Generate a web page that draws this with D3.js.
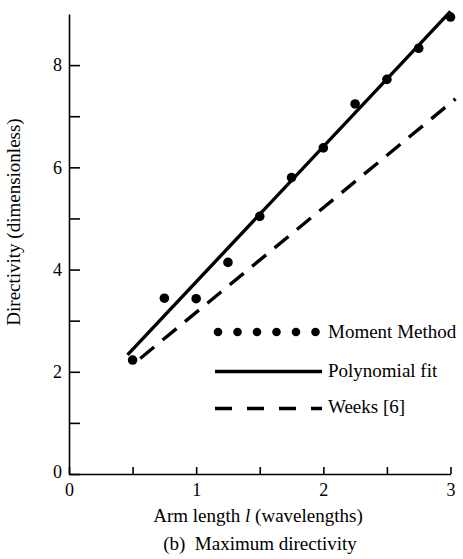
<!DOCTYPE html>
<html>
<head>
<meta charset="utf-8">
<script src="https://cdn.jsdelivr.net/npm/d3@7"></script>
<style>
  html, body { margin: 0; padding: 0; background: #fff; }
  svg { display: block; }
  text { font-family: "Liberation Serif", "Times New Roman", serif; fill: #000; }
</style>
</head>
<body>
<svg id="chart" width="463" height="559"></svg>
<script>
// ---- data ----
const armLength = [0.5, 0.75, 1.0, 1.25, 1.5, 1.75, 2.0, 2.25, 2.5, 2.75, 3.0];
const momentMethod = [2.23, 3.44, 3.43, 4.14, 5.04, 5.80, 6.38, 7.24, 7.72, 8.33, 8.94];
const fitX = [0.46, 3.0];
const fitY = [2.33, 9.05];
const weeksX = [0.56, 3.04];
const weeksY = [2.26, 7.34];
const xTicks = [0, 0.5, 1, 1.5, 2, 2.5, 3];
const xTickLabels = ["0", "", "1", "", "2", "", "3"];
const yTicks = [0, 1, 2, 3, 4, 5, 6, 7, 8];
const yTickLabels = ["0", "", "2", "", "4", "", "6", "", "8"];
const legendLabels = ["Moment Method", "Polynomial fit", "Weeks [6]"];

const svg = d3.select("#chart");
const x = d3.scaleLinear().domain([0, 3]).range([69, 450.5]);
const y = d3.scaleLinear().domain([0, 9]).range([474, 14]);
const fs = 19;
const tfs = 18;

// axes
const xAxis = d3.axisBottom(x).tickValues(xTicks)
  .tickFormat((d, i) => xTickLabels[i]).tickSizeInner(-7).tickSizeOuter(0).tickPadding(9);
const yAxis = d3.axisLeft(y).tickValues(yTicks)
  .tickFormat((d, i) => yTickLabels[i]).tickSizeInner(-11).tickSizeOuter(0).tickPadding(7);

const gx = svg.append("g").attr("transform", `translate(0,${y(0)})`).call(xAxis);
const gy = svg.append("g").attr("transform", `translate(${x(0)},0)`).call(yAxis);
[gx, gy].forEach(g => {
  g.select(".domain").attr("stroke", "#000").attr("stroke-width", 1.6);
  g.selectAll(".tick line").attr("stroke", "#000").attr("stroke-width", 1.6);
  g.selectAll(".tick text").attr("font-family", "Liberation Serif, serif").attr("font-size", tfs).attr("fill", "#000");
});
gy.select(".tick text").attr("dy", "0.2em");

// lines
const line = d3.line().x(d => x(d[0])).y(d => y(d[1]));
svg.append("path").datum(fitX.map((v, i) => [v, fitY[i]]))
  .attr("d", line).attr("fill", "none").attr("stroke", "#000").attr("stroke-width", 3.4);
svg.append("path").datum(weeksX.map((v, i) => [v, weeksY[i]]))
  .attr("d", line).attr("fill", "none").attr("stroke", "#000").attr("stroke-width", 3.4)
  .attr("stroke-dasharray", "18,11");

// points
svg.append("g").selectAll("circle").data(armLength).join("circle")
  .attr("cx", d => x(d)).attr("cy", (d, i) => y(momentMethod[i])).attr("r", 4.8).attr("fill", "#000");

// legend
const lg = svg.append("g");
lg.selectAll("circle").data(d3.range(6)).join("circle")
  .attr("cx", d => 218 + d * 19.5).attr("cy", 332).attr("r", 4.3).attr("fill", "#000");
lg.append("line").attr("x1", 215).attr("x2", 322).attr("y1", 371.5).attr("y2", 371.5)
  .attr("stroke", "#000").attr("stroke-width", 3.4);
lg.append("line").attr("x1", 215).attr("x2", 322).attr("y1", 408.5).attr("y2", 408.5)
  .attr("stroke", "#000").attr("stroke-width", 3.4).attr("stroke-dasharray", "17,15");
[337.5, 376.5, 412.5].forEach((by, i) => {
  lg.append("text").attr("x", 328).attr("y", by).attr("font-size", fs).text(legendLabels[i]);
});

// axis titles
const xt = svg.append("text").attr("x", 258).attr("y", 522).attr("text-anchor", "middle").attr("font-size", fs);
xt.append("tspan").text("Arm length ");
xt.append("tspan").attr("font-style", "italic").text("l");
xt.append("tspan").text(" (wavelengths)");
svg.append("text").attr("x", 260).attr("y", 550).attr("text-anchor", "middle").attr("font-size", fs)
  .attr("xml:space", "preserve").style("white-space", "pre").text("(b)  Maximum directivity");
svg.append("text").attr("transform", "translate(20,222) rotate(-90)").attr("text-anchor", "middle")
  .attr("font-size", fs).text("Directivity (dimensionless)");
</script>
</body>
</html>
